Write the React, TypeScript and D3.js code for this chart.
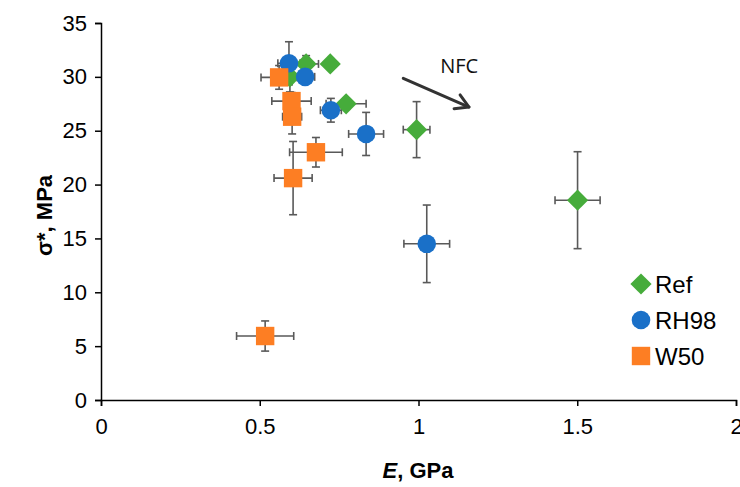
import { useEffect, useRef } from 'react'
import * as d3 from 'd3'

const xTicks = [0, 0.5, 1, 1.5, 2]
const yTicks = [0, 5, 10, 15, 20, 25, 30, 35]

const refE = [0.646, 0.722, 0.595, 0.772, 0.994, 1.501]
const refSigma = [31.2, 31.2, 30.0, 27.5, 25.1, 18.55]
const refEErr = [0.039, 0, 0.03, 0.063, 0.042, 0.071]
const refSigmaErr = [0.77, 0, 1.4, 0.5, 2.6, 4.5]

const rhE = [0.592, 0.643, 0.724, 0.835, 1.026]
const rhSigma = [31.26, 30.0, 26.9, 24.7, 14.5]
const rhEErr = [0.035, 0.03, 0.033, 0.055, 0.072]
const rhSigmaErr = [2.0, 0.5, 1.1, 2.0, 3.6]

const wE = [0.561, 0.6, 0.602, 0.677, 0.605, 0.517]
const wSigma = [29.95, 27.75, 26.3, 23.0, 20.6, 5.94]
const wEErr = [0.057, 0.062, 0.03, 0.083, 0.06, 0.09]
const wSigmaErr = [1.1, 0.8, 1.6, 1.37, 3.4, 1.4]

const seriesNames = ['Ref', 'RH98', 'W50']
const seriesColors = ['#46ac3b', '#1a70c8', '#fd7e23']
const seriesShapes = ['diamond', 'circle', 'square']

// arrow annotation, in data units
const arrowFrom = [0.952, 29.87]
const arrowTo = [1.159, 27.2]
const nfcPos = [1.128, 30.4]

export default function App() {
  const svgRef = useRef<SVGSVGElement>(null)

  useEffect(() => {
    if (!svgRef.current) return
    const svg = d3.select(svgRef.current)
    svg.selectAll('*').remove()

    const margin = { top: 23, right: 4, bottom: 87, left: 101 }
    const height = 487
    const innerHeight = height - margin.top - margin.bottom

    const xScale = d3.scaleLinear().domain([0, 2]).range([0, 635])
    const yScale = d3.scaleLinear().domain([0, 35]).range([innerHeight, 0])

    const g = svg.append('g').attr('transform', `translate(${margin.left},${margin.top})`)

    const series = [
      { E: refE, s: refSigma, eE: refEErr, eS: refSigmaErr },
      { E: rhE, s: rhSigma, eE: rhEErr, eS: rhSigmaErr },
      { E: wE, s: wSigma, eE: wEErr, eS: wSigmaErr },
    ]

    const font = '"Liberation Sans", Arial, sans-serif'

    // axes
    const yAxis = d3.axisLeft(yScale).tickValues(yTicks).tickSize(6).tickPadding(8).tickFormat(d => String(d))
    const yg = g.append('g').call(yAxis)
    yg.select('.domain').attr('stroke', '#000').attr('stroke-width', 1.5)
    yg.selectAll('line').attr('stroke', '#000').attr('stroke-width', 1.5)
    yg.selectAll('text')
      .attr('font-family', font)
      .attr('font-size', 22)
      .attr('fill', '#000')

    const xAxis = d3.axisBottom(xScale).tickValues(xTicks).tickSize(6).tickPadding(12).tickFormat(d => String(d))
    const xg = g.append('g').attr('transform', `translate(0,${innerHeight})`).call(xAxis)
    xg.select('.domain').attr('stroke', '#000').attr('stroke-width', 1.5)
    xg.selectAll('line').attr('stroke', '#000').attr('stroke-width', 1.5)
    xg.selectAll('text')
      .attr('font-family', font)
      .attr('font-size', 22)
      .attr('fill', '#000')

    // error bars
    const cap = 4
    const eb = g.append('g').attr('stroke', '#595959').attr('stroke-width', 1.6)
    series.forEach(sr => {
      sr.E.forEach((e, i) => {
        const cx = xScale(e)
        const cy = yScale(sr.s[i])
        if (sr.eS[i] > 0) {
          const y1 = yScale(sr.s[i] + sr.eS[i])
          const y2 = yScale(sr.s[i] - sr.eS[i])
          eb.append('line').attr('x1', cx).attr('x2', cx).attr('y1', y1).attr('y2', y2)
          eb.append('line').attr('x1', cx - cap).attr('x2', cx + cap).attr('y1', y1).attr('y2', y1)
          eb.append('line').attr('x1', cx - cap).attr('x2', cx + cap).attr('y1', y2).attr('y2', y2)
        }
        if (sr.eE[i] > 0) {
          const x1 = xScale(e - sr.eE[i])
          const x2 = xScale(e + sr.eE[i])
          eb.append('line').attr('x1', x1).attr('x2', x2).attr('y1', cy).attr('y2', cy)
          eb.append('line').attr('x1', x1).attr('x2', x1).attr('y1', cy - cap).attr('y2', cy + cap)
          eb.append('line').attr('x1', x2).attr('x2', x2).attr('y1', cy - cap).attr('y2', cy + cap)
        }
      })
    })

    const drawMarker = (sel: any, shape: string, color: string, cx: number, cy: number) => {
      if (shape === 'circle') {
        sel.append('circle').attr('cx', cx).attr('cy', cy).attr('r', 9.3).attr('fill', color)
      } else if (shape === 'square') {
        sel.append('rect').attr('x', cx - 9.2).attr('y', cy - 9.2).attr('width', 18.4).attr('height', 18.4).attr('fill', color)
      } else {
        const r = 10.6
        sel.append('path')
          .attr('d', `M${cx},${cy - r}L${cx + r},${cy}L${cx},${cy + r}L${cx - r},${cy}Z`)
          .attr('fill', color)
      }
    }

    // markers
    const mk = g.append('g')
    series.forEach((sr, si) => {
      sr.E.forEach((e, i) => {
        drawMarker(mk, seriesShapes[si], seriesColors[si], xScale(e), yScale(sr.s[i]))
      })
    })

    // arrow
    const ax1 = xScale(arrowFrom[0]), ay1 = yScale(arrowFrom[1])
    const ax2 = xScale(arrowTo[0]), ay2 = yScale(arrowTo[1])
    const ang = Math.atan2(ay2 - ay1, ax2 - ax1)
    const hl = 15
    const spread = Math.PI / 6
    const arrow = g.append('g').attr('stroke', '#333').attr('stroke-width', 3).attr('fill', 'none')
      .attr('stroke-linecap', 'round').attr('stroke-linejoin', 'round')
    arrow.append('line').attr('x1', ax1).attr('y1', ay1).attr('x2', ax2).attr('y2', ay2)
    arrow.append('path').attr('d',
      `M${ax2 - hl * Math.cos(ang - spread)},${ay2 - hl * Math.sin(ang - spread)}L${ax2},${ay2}L${ax2 - hl * Math.cos(ang + spread)},${ay2 - hl * Math.sin(ang + spread)}`)

    g.append('text')
      .attr('x', xScale(nfcPos[0]))
      .attr('y', yScale(nfcPos[1]))
      .attr('text-anchor', 'middle')
      .attr('font-family', '"Open Sans", sans-serif')
      .attr('font-size', 20)
      .attr('fill', '#111')
      .text('NFC')

    // legend
    const lg = svg.append('g')
    seriesNames.forEach((name, i) => {
      const ly = 284 + i * 36
      drawMarker(lg, seriesShapes[i], seriesColors[i], 641, ly)
      lg.append('text')
        .attr('x', 655)
        .attr('y', ly + 9)
        .attr('font-family', font)
        .attr('font-size', 24)
        .attr('fill', '#000')
        .text(name)
    })

    // axis titles
    const xt = svg.append('text')
      .attr('x', 418)
      .attr('y', 478)
      .attr('text-anchor', 'middle')
      .attr('font-family', font)
      .attr('font-size', 22)
      .attr('font-weight', 'bold')
      .attr('fill', '#000')
    xt.append('tspan').attr('font-style', 'italic').text('E')
    xt.append('tspan').text(', GPa')

    svg.append('text')
      .attr('transform', `translate(52,${margin.top + innerHeight / 2 + 4}) rotate(-90)`)
      .attr('text-anchor', 'middle')
      .attr('font-family', font)
      .attr('font-size', 22)
      .attr('font-weight', 'bold')
      .attr('fill', '#000')
      .text('σ*, MPa')
  }, [])

  return (
    <div style={{ position: 'fixed', left: 0, top: 0, width: 740, height: 487, background: '#fff' }}>
      <svg ref={svgRef} width={740} height={487} style={{ display: 'block' }} />
    </div>
  )
}
